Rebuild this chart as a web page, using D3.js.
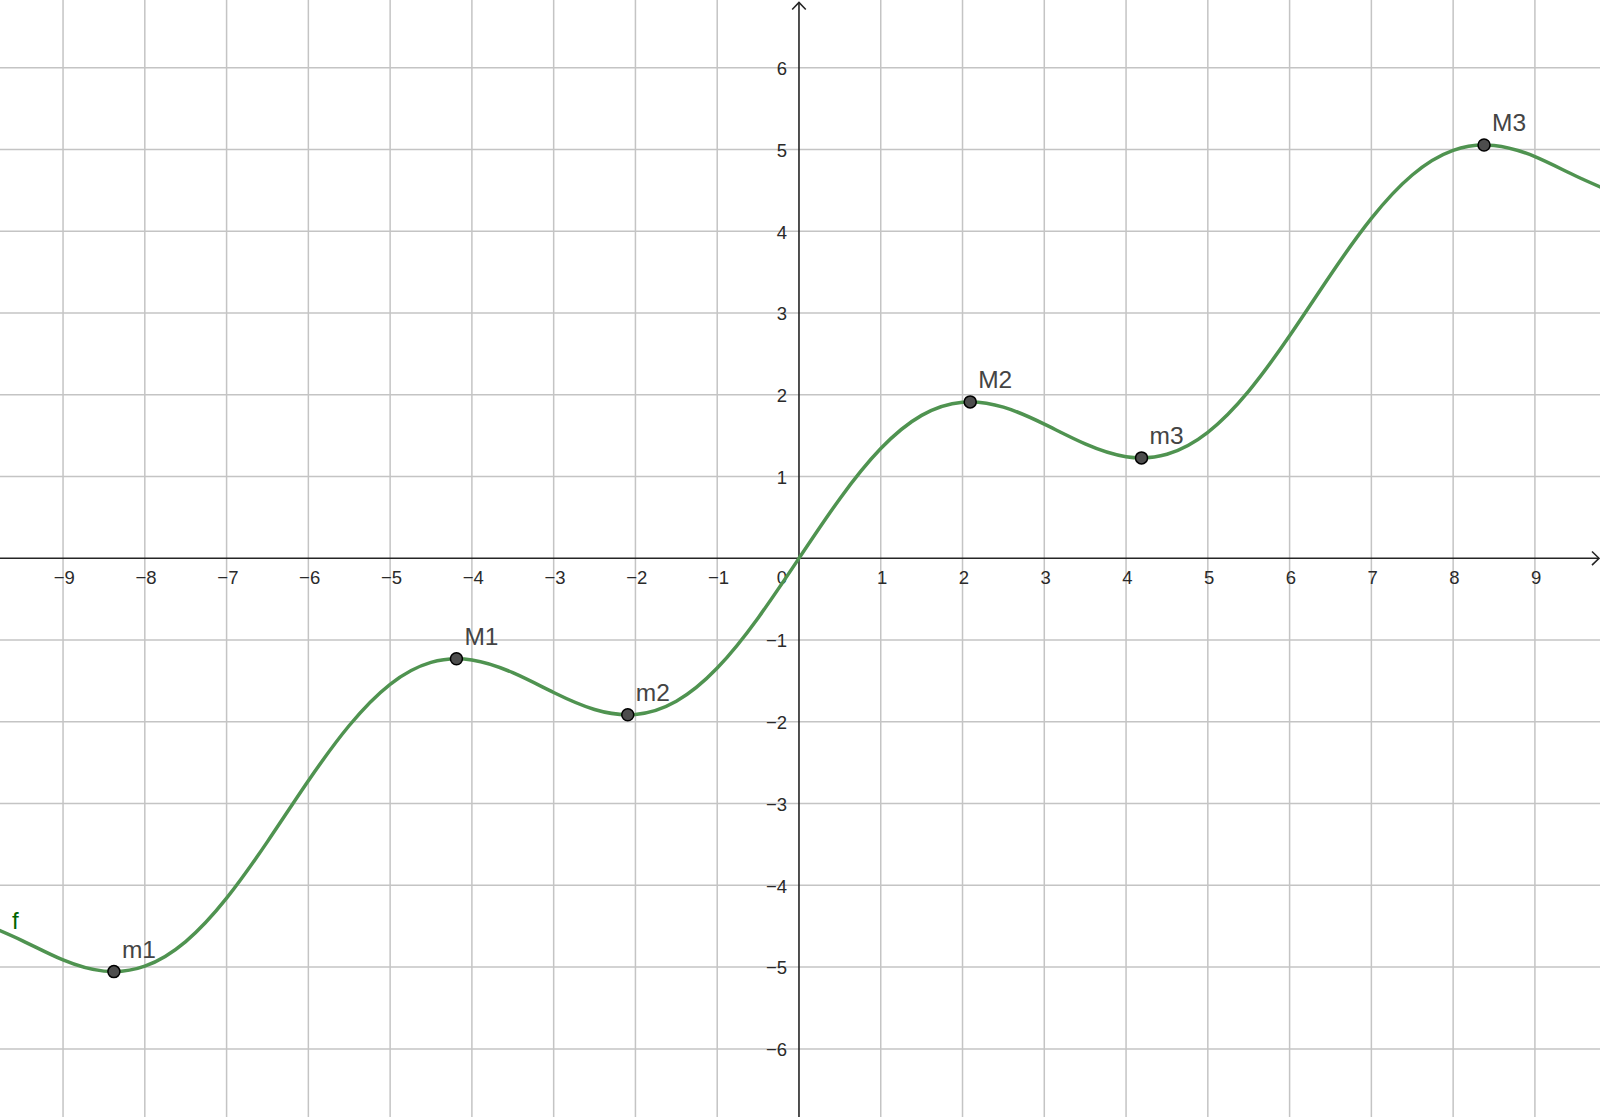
<!DOCTYPE html>
<html>
<head>
<meta charset="utf-8">
<script src="https://cdn.jsdelivr.net/npm/d3@7/dist/d3.min.js"></script>
<style>
html,body{margin:0;padding:0;background:#fff;}
svg{display:block;}
</style>
</head>
<body>
<svg id="chart" width="1600" height="1117"></svg>
<script>
// Curve samples (x, y)
const curveX = [-10,-9.5,-9,-8.5,-8,-7.5,-7,-6.5,-6,-5.5,-5,-4.5,-4,-3.5,-3,-2.5,-2,-1.5,-1,-0.5,0,0.5,1,1.5,2,2.5,3,3.5,4,4.5,5,5.5,6,6.5,7,7.5,8,8.5,9,9.5,10];
const curveY = [-4.456,-4.675,-4.912,-5.049,-4.989,-4.688,-4.157,-3.465,-2.721,-2.045,-1.541,-1.273,-1.243,-1.399,-1.641,-1.849,-1.909,-1.748,-1.342,-0.729,0,0.729,1.342,1.748,1.909,1.849,1.641,1.399,1.243,1.273,1.541,2.045,2.721,3.465,4.157,4.688,4.989,5.049,4.912,4.675,4.456];

// Extremum points
const pointNames = ["m1","M1","m2","M2","m3","M3"];
const pointX = [-8.378,-4.189,-2.094,2.094,4.189,8.378];
const pointY = [-5.055,-1.228,-1.913,1.913,1.228,5.055];

// Tick labels
const xTicks = [-9,-8,-7,-6,-5,-4,-3,-2,-1,1,2,3,4,5,6,7,8,9];
const yTicks = [-6,-5,-4,-3,-2,-1,1,2,3,4,5,6];
const gridX = [-9,-8,-7,-6,-5,-4,-3,-2,-1,0,1,2,3,4,5,6,7,8,9];
const gridY = [-6,-5,-4,-3,-2,-1,0,1,2,3,4,5,6];

const W = 1600, H = 1117;
const x = d3.scaleLinear().domain([-9.771, 9.796]).range([0, W]);
const y = d3.scaleLinear().domain([-6.833, 6.828]).range([H, 0]);

const svg = d3.select("#chart");
svg.append("rect").attr("width", W).attr("height", H).attr("fill", "#fff");

const fmt = v => v < 0 ? "\u2212" + Math.abs(v) : String(v);

// grid
const grid = svg.append("g").attr("stroke", "#c4c4c4").attr("stroke-width", 1.5);
grid.selectAll("line.gx").data(gridX.filter(d => d !== 0)).join("line")
  .attr("x1", d => x(d)).attr("x2", d => x(d)).attr("y1", 0).attr("y2", H);
grid.selectAll("line.gy").data(gridY.filter(d => d !== 0)).join("line")
  .attr("y1", d => y(d)).attr("y2", d => y(d)).attr("x1", 0).attr("x2", W);

// axes
const ax = svg.append("g").attr("stroke", "#252525").attr("stroke-width", 1.6).attr("fill", "none");
ax.append("line").attr("x1", 0).attr("x2", W - 1).attr("y1", y(0)).attr("y2", y(0));
ax.append("line").attr("x1", x(0)).attr("x2", x(0)).attr("y1", 2.5).attr("y2", H);
ax.append("path").attr("d", `M${W-8},${y(0)-6.8}L${W-1},${y(0)}L${W-8},${y(0)+6.8}`);
ax.append("path").attr("d", `M${x(0)-6.8},${9.5}L${x(0)},${2.5}L${x(0)+6.8},${9.5}`);

// tick labels
const tl = svg.append("g").attr("font-family", "'Liberation Sans', Arial, sans-serif")
  .attr("font-size", 18.5).attr("fill", "#2a2a2a");
tl.selectAll("text.xt").data(xTicks).join("text")
  .attr("x", d => x(d) + 1.3).attr("y", y(0) + 25.9)
  .attr("text-anchor", "middle").text(fmt);
tl.selectAll("text.yt").data(yTicks).join("text")
  .attr("x", x(0) - 12).attr("y", d => y(d) + 7.3)
  .attr("text-anchor", "end").text(fmt);
tl.append("text").attr("x", x(0) - 12).attr("y", y(0) + 25.9).attr("text-anchor", "end").text("0");

// curve
const line = d3.line().x(d => x(d[0])).y(d => y(d[1])).curve(d3.curveNatural);
svg.append("path").datum(curveX.map((v, i) => [v, curveY[i]]))
  .attr("d", line).attr("fill", "none").attr("stroke", "#4f9350")
  .attr("stroke-width", 3.5).attr("stroke-linejoin", "round");

// f label
svg.append("text").attr("x", x(-9.612) - 1).attr("y", y(-4.533))
  .attr("font-family", "'Liberation Sans', Arial, sans-serif").attr("font-size", 24)
  .attr("fill", "#006400").text("f");

// points
const pts = pointNames.map((n, i) => ({n, x: pointX[i], y: pointY[i]}));
svg.append("g").selectAll("circle").data(pts).join("circle")
  .attr("cx", d => x(d.x)).attr("cy", d => y(d.y)).attr("r", 6)
  .attr("fill", "#4d4d4d").attr("stroke", "#000").attr("stroke-width", 1.5);
svg.append("g").attr("font-family", "'Liberation Sans', Arial, sans-serif")
  .attr("font-size", 24.5).attr("fill", "#444")
  .selectAll("text").data(pts).join("text")
  .attr("x", d => x(d.x) + 8).attr("y", d => y(d.y) - 13.5).text(d => d.n);
</script>
</body>
</html>
